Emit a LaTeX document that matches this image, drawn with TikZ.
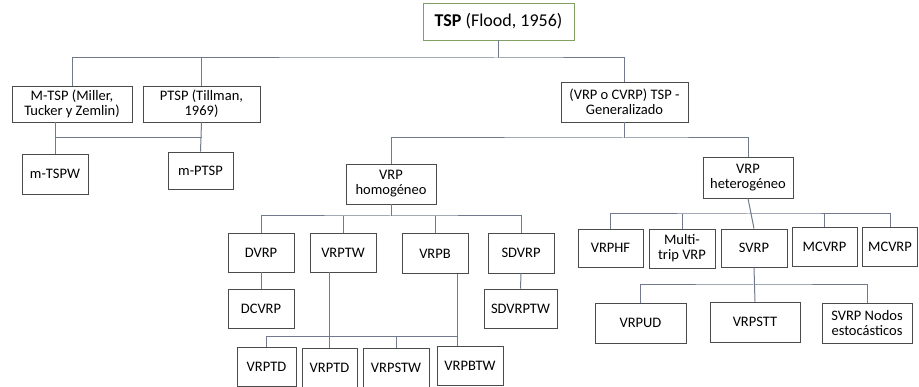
\documentclass[tikz,border=0pt]{standalone}
\usepackage{fontspec}
\setmainfont{Carlito}
\usepackage{xcolor}
\definecolor{boxgray}{RGB}{75,75,75}
\definecolor{linegray}{RGB}{112,122,140}
\definecolor{rootgreen}{RGB}{130,160,100}

\begin{document}
\begin{tikzpicture}[x=1pt,y=-1pt,
    box/.style={draw=boxgray,line width=0.9pt,align=center,inner sep=1pt,
      font=\fontsize{14.5}{15}\selectfont},
    conn/.style={draw=linegray,line width=1pt}]
    \useasboundingbox (0,0) rectangle (919,387);

    \node[box,draw=rootgreen,minimum width=151,minimum height=37,font=\fontsize{18}{20}\selectfont] (tsp) at (498.5,21.5) {\textbf{TSP} (Flood, 1956)};

    \node[box,minimum width=120,minimum height=36] (mtsp) at (72,104) {M-TSP (Miller,\\Tucker y Zemlin)};
    \node[box,minimum width=117,minimum height=36] (ptsp) at (201.5,104) {PTSP (Tillman,\\1969)};
    \node[box,minimum width=127,minimum height=40] (gen) at (624.5,102) {(VRP o CVRP) TSP -\\Generalizado};

    \node[box,minimum width=66,minimum height=40] (mtspw) at (55,174) {m-TSPW};
    \node[box,minimum width=65,minimum height=37] (mptsp) at (200.5,170.5) {m-PTSP};

    \node[box,minimum width=90,minimum height=40] (homo) at (391,184) {VRP\\homogéneo};
    \node[box,minimum width=90,minimum height=41] (hetero) at (748,177.5) {VRP\\heterogéneo};

    \node[box,minimum width=66,minimum height=39] (dvrp) at (261,252.5) {DVRP};
    \node[box,minimum width=66,minimum height=39] (vrptw) at (343,252.5) {VRPTW};
    \node[box,minimum width=66,minimum height=40] (vrpb) at (435,253.5) {VRPB};
    \node[box,minimum width=66,minimum height=40] (sdvrp) at (521,253) {SDVRP};
    \node[box,minimum width=66,minimum height=39] (dcvrp) at (261,308.5) {DCVRP};
    \node[box,minimum width=73,minimum height=39] (sdvrptw) at (520.5,308.5) {SDVRPTW};

    \node[box,minimum width=59,minimum height=39] (vrptda) at (266.5,366.5) {VRPTD};
    \node[box,minimum width=55,minimum height=39] (vrptdb) at (329.5,367.5) {VRPTD};
    \node[box,minimum width=66,minimum height=39] (vrpstw) at (396,367.5) {VRPSTW};
    \node[box,minimum width=66,minimum height=39] (vrpbtw) at (470,365.5) {VRPBTW};

    \node[box,minimum width=65,minimum height=38] (vrphf) at (610.5,248) {VRPHF};
    \node[box,minimum width=66,minimum height=39] (multi) at (682,248.5) {Multi-\\trip VRP};
    \node[box,minimum width=66,minimum height=38] (svrp) at (754,248) {SVRP};
    \node[box,minimum width=65,minimum height=39] (mcvrpa) at (824.5,247) {MCVRP};
    \node[box,minimum width=55,minimum height=39] (mcvrpb) at (890,247) {MCVRP};

    \node[box,minimum width=91,minimum height=40] (vrpud) at (640.5,323) {VRPUD};
    \node[box,minimum width=90,minimum height=40] (vrpstt) at (755,322) {VRPSTT};
    \node[box,minimum width=90,minimum height=40] (svrpn) at (867,323) {SVRP Nodos\\estocásticos};

    \coordinate (tspbus) at (498.5,58);
    \coordinate (mbus) at (0,138);
    \coordinate (genbus) at (0,138);
    \coordinate (homobus) at (0,216);
    \coordinate (heterobus) at (0,214);
    \coordinate (svrpbus) at (0,285);
    \coordinate (twbus) at (457,337);

    \draw[conn] (tsp) -- (tspbus);
    \draw[conn] (mtsp.north) |- (tspbus) -| (gen.north);
    \draw[conn] (ptsp.north) -- (ptsp.north |- tspbus);

    \draw[conn] (mtsp.south -| mtspw.north) -- (mtspw.north);
    \draw[conn] (ptsp.south) -- (mptsp.north);
    \draw[conn] (mtspw.north |- mbus) -- (ptsp.south |- mbus);

    \draw[conn] (gen.south) -- (gen.south |- genbus);
    \draw[conn] (homo.north) |- (gen.south |- genbus) -| (hetero.north);

    \draw[conn] (homo.south) -- (homo.south |- homobus);
    \draw[conn] (dvrp.north) |- (homo.south |- homobus) -| (sdvrp.north);
    \draw[conn] (vrptw.north) -- (vrptw.north |- homobus);
    \draw[conn] (vrpb.north) -- (vrpb.north |- homobus);

    \draw[conn] (dvrp) -- (dcvrp);
    \draw[conn] (sdvrp) -- (sdvrptw);
    \draw[conn] (vrptw.south -| vrptdb.north) -- (vrptdb.north);
    \draw[conn] (vrpb.south -| twbus) -- (vrpbtw.north -| twbus);
    \draw[conn] (vrptda.north) |- (twbus);
    \draw[conn] (vrpstw.north) -- (vrpstw.north |- twbus);

    \draw[conn] (hetero.south) -- (svrp.north);
    \draw[conn] (vrphf.north) |- (hetero.south |- heterobus) -| (mcvrpb.north);
    \draw[conn] (multi.north) -- (multi.north |- heterobus);
    \draw[conn] (mcvrpa.north) -- (mcvrpa.north |- heterobus);

    \draw[conn] (svrp.south) -- (vrpstt.north);
    \draw[conn] (vrpud.north) |- (svrp.south |- svrpbus) -| (svrpn.north);

  \end{tikzpicture}
\end{document}
